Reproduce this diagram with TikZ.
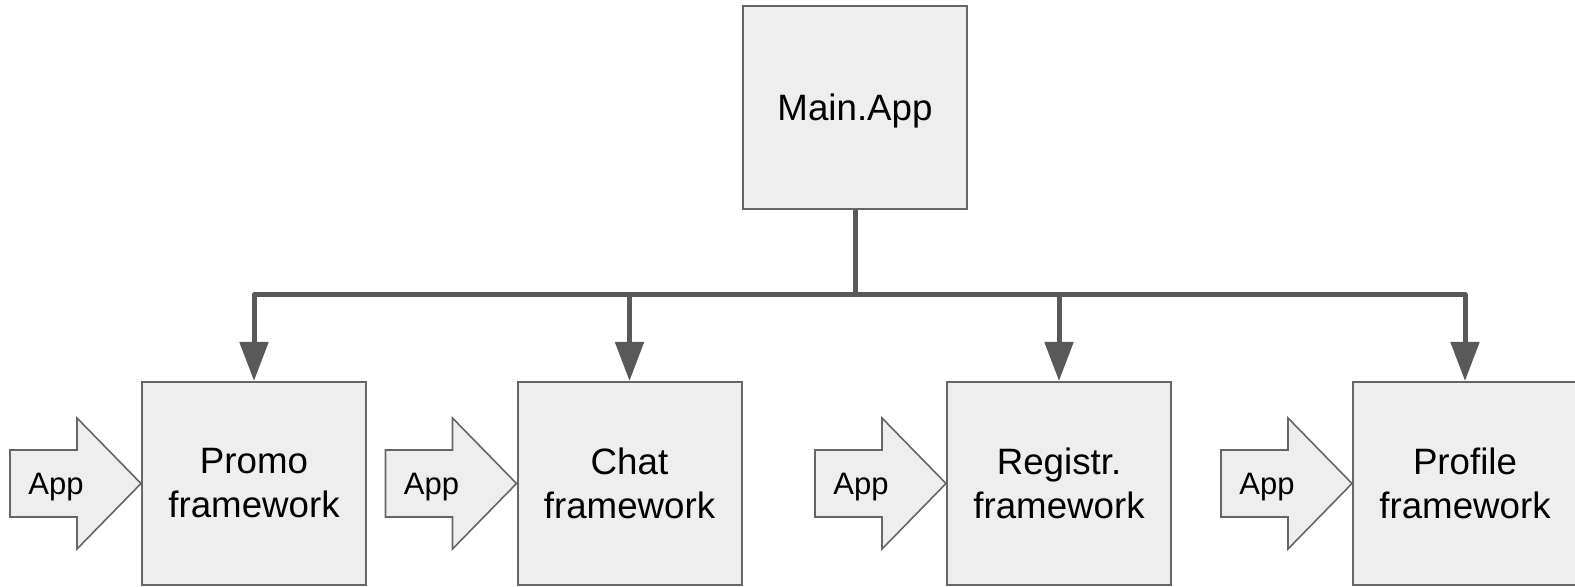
\documentclass[tikz,border=0pt]{standalone}
\usepackage{fontspec}
\setmainfont{Liberation Sans}
\usetikzlibrary{arrows.meta,calc,backgrounds}
\definecolor{boxfill}{HTML}{EEEEEE}
\definecolor{boxline}{HTML}{666666}
\definecolor{wire}{HTML}{595959}
\tikzset{
  module/.style={draw=boxline, fill=boxfill, line width=1pt,
    minimum width=112pt, minimum height=101.5pt, inner sep=0pt,
    align=center, font=\fontsize{18.35}{22}\selectfont},
  oneline/.style={text height=13.1pt, text depth=0pt},
  conn/.style={draw=wire, line width=2.5pt, line join=round,
    -{Triangle[width=14pt,length=19.5pt]}},
  inarrow/.style={draw=boxline, fill=boxfill, line width=0.8pt, line join=miter},
  arrowlabel/.style={font=\fontsize{15.5}{18}\selectfont, inner sep=0pt,
    text height=11.1pt, text depth=0pt}
}
\begin{document}
\begin{tikzpicture}[x=0.5pt,y=-0.5pt]
  \useasboundingbox (0,0) rectangle (1575,587);
  \clip (0,0) rectangle (1575,587);

  % modules
  \node[module,oneline] (main) at (855,107.5) {Main.App};
  \node[module] (promo)   at (254,483.5)  {Promo\\framework};
  \node[module] (chat)    at (629.5,483.5) {Chat\\framework};
  \node[module] (registr) at (1059,483.5) {Registr.\\framework};
  \node[module] (profile) at (1465,483.5) {Profile\\framework};

  % bus from the main application down to each framework
  \coordinate (bus) at (855,295);
  \foreach \b in {promo,chat,registr,profile}
    \draw[conn] (main.south) -- (bus) -| (\b.north);

  % incoming "App" block arrows
  \foreach \b in {promo,chat,registr,profile} {
    \begin{scope}[on background layer]
      \draw[inarrow]
        ($(\b.west)+(-131,-33.5)$) -- ($(\b.west)+(-64,-33.5)$) --
        ($(\b.west)+(-64,-65.5)$) -- (\b.west) --
        ($(\b.west)+(-64,65.5)$) -- ($(\b.west)+(-64,33.5)$) --
        ($(\b.west)+(-131,33.5)$) -- cycle;
    \end{scope}
    \node[arrowlabel] (\b-app) at ($(\b.west)+(-85,0)$) {App};
  }
\end{tikzpicture}
\end{document}
